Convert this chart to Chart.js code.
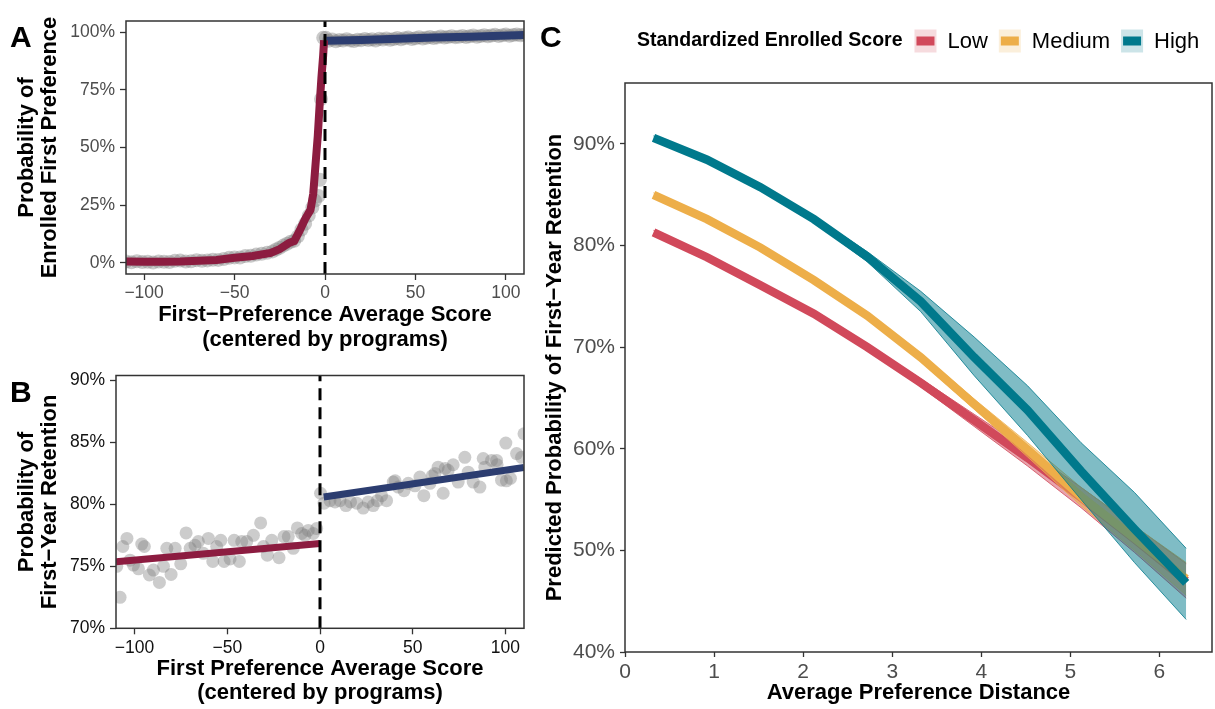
<!DOCTYPE html>
<html>
<head>
<meta charset="utf-8">
<script src="https://cdn.jsdelivr.net/npm/chart.js@4.4.0/dist/chart.umd.min.js"></script>
<style>
  body { margin: 0; background: #fff; width: 1215px; height: 709px; position: relative; overflow: hidden; }
  canvas { position: absolute; }
</style>
</head>
<body>
<canvas id="chartA" width="530" height="360" style="left:0px;top:0px"></canvas>
<canvas id="chartB" width="530" height="349" style="left:0px;top:360px"></canvas>
<canvas id="chartC" width="685" height="709" style="left:530px;top:0px"></canvas>
<script>
// ---- Panel A: probability of enrolling in first preference ----
const aXTicks = [-100, -50, 0, 50, 100];
const aXTickLabels = ['\u2212100', '\u221250', '0', '50', '100'];
const aYTicks = [0, 25, 50, 75, 100];
const aYTickLabels = ['0%', '25%', '50%', '75%', '100%'];
const aPtLeftX = [-110, -107, -104, -101, -98, -95, -92, -89, -86, -83, -80, -77, -74, -71, -68, -65, -62, -59, -56, -53, -50, -47, -44, -41, -38, -35, -32, -29, -27, -25, -23, -21, -19, -17, -15, -13, -11, -9, -7, -5.5, -3.6, -2.8, -2.2, -1];
const aPtLeftY = [0.6, 0.3, 0.7, 0.4, 0.5, 0.2, 0.6, 0.5, 0.4, 0.9, 1.0, 0.6, 0.7, 1.2, 0.9, 1.1, 1.4, 1.3, 1.7, 2.2, 2.4, 2.3, 3.0, 3.1, 3.6, 4.0, 4.4, 5.0, 5.8, 6.6, 7.5, 8.3, 9.2, 9.6, 11.5, 14.5, 17.0, 20.5, 24.0, 27.0, 29.0, 36.0, 71.0, 97.5];
const aPtRightX = [0.5, 2, 4, 6, 8, 10, 12, 14, 16, 18, 20, 22, 24, 26, 28, 30, 32, 34, 36, 38, 40, 42, 44, 46, 48, 50, 52, 54, 56, 58, 60, 62, 64, 66, 68, 70, 72, 74, 76, 78, 80, 82, 84, 86, 88, 90, 92, 94, 96, 98, 100, 102, 104, 106, 108, 110];
const aPtRightY = [97.5, 96.2, 96.8, 96.0, 96.6, 96.3, 96.9, 96.4, 96.1, 96.7, 96.5, 97.0, 96.6, 96.9, 96.3, 97.1, 96.8, 97.2, 96.7, 97.0, 97.4, 96.9, 97.3, 97.6, 97.0, 97.3, 97.8, 97.2, 97.5, 97.9, 97.4, 97.7, 98.1, 97.6, 97.9, 98.2, 97.8, 98.0, 98.3, 97.9, 98.2, 98.5, 98.0, 98.3, 98.6, 98.2, 98.5, 98.8, 98.3, 98.6, 98.9, 98.4, 98.7, 99.0, 98.6, 98.8];
const aFitLeftX = [-110, -100, -90, -80, -70, -60, -50, -40, -30, -25, -20, -17, -14, -11, -8, -6.5, -5, -4, -3, -2, -1, -0.5];
const aFitLeftY = [0.6, 0.5, 0.5, 0.6, 0.9, 1.3, 2.2, 3.0, 4.3, 6.0, 8.6, 9.5, 14, 19, 23, 30, 45, 55, 68, 80, 90, 96.5];
const aFitRightX = [0.8, 20, 40, 60, 80, 110];
const aFitRightY = [96.2, 96.6, 97.1, 97.6, 98.0, 98.7];

// ---- Panel B: probability of first-year retention ----
const bXTicks = [-100, -50, 0, 50, 100];
const bXTickLabels = ['\u2212100', '\u221250', '0', '50', '100'];
const bYTicks = [70, 75, 80, 85, 90];
const bYTickLabels = ['70%', '75%', '80%', '85%', '90%'];
const bPtLeftX = [-109.6, -107.8, -106.3, -104.1, -102.4, -100.6, -97.9, -96.1, -94.7, -92, -89.8, -86.6, -84.4, -82.6, -80.3, -78.1, -75.1, -72.2, -70, -67.4, -65.6, -62.9, -60.2, -57.8, -55.7, -53.5, -51.7, -48.5, -46.3, -43.5, -42.2, -39.5, -35.9, -32, -30.5, -28.4, -26, -22.1, -19.4, -17.1, -14.4, -12.2, -9.9, -8.1, -6.3, -3.6, -1.8];
const bPtLeftY = [75.0, 72.5, 76.6, 77.25, 75.5, 75.1, 74.8, 76.8, 76.6, 74.3, 74.7, 73.7, 75.0, 76.45, 74.35, 76.45, 75.2, 77.7, 76.45, 76.7, 77.0, 76.05, 77.25, 75.4, 76.6, 77.1, 75.4, 75.6, 77.1, 75.4, 77.0, 77.0, 77.5, 78.5, 76.6, 75.9, 77.1, 75.7, 77.4, 77.4, 76.45, 78.1, 77.65, 77.5, 77.9, 77.65, 78.05];
const bPtRightX = [0.3, 2.2, 5.4, 8.1, 10.8, 14, 16.5, 19.8, 23.3, 26, 28.7, 30.9, 33.2, 35.9, 39.5, 40.5, 42.2, 45.3, 47.6, 51.2, 53.9, 56, 59.3, 60.5, 62, 63.7, 66.4, 67.5, 69.1, 71.8, 74.5, 78.1, 79.9, 82.6, 86.2, 88, 88.9, 92.5, 95.2, 95.5, 97.9, 100.2, 100.5, 102.7, 106, 108.7, 110];
const bPtRightY = [80.9, 80.1, 80.3, 80.2, 80.3, 79.9, 80.2, 80.1, 79.7, 80.2, 79.9, 80.3, 80.7, 80.3, 81.8, 81.9, 81.4, 81.1, 81.7, 81.5, 82.2, 80.7, 81.7, 82.3, 82.5, 83.0, 80.9, 82.9, 82.75, 83.2, 81.8, 83.8, 82.6, 81.8, 81.4, 83.7, 83.0, 83.55, 83.55, 83.2, 81.95, 84.95, 81.9, 82.1, 84.1, 83.8, 85.7];
const bFitLeftX = [-110, 0];
const bFitLeftY = [75.37, 76.85];
const bFitRightX = [2, 110];
const bFitRightY = [80.6, 82.97];

// ---- Panel C: predicted retention by preference distance ----
const cGroups = ['Low', 'Medium', 'High'];
const cXTicks = [0, 1, 2, 3, 4, 5, 6];
const cXTickLabels = ['0', '1', '2', '3', '4', '5', '6'];
const cYTicks = [40, 50, 60, 70, 80, 90];
const cYTickLabels = ['40%', '50%', '60%', '70%', '80%', '90%'];
const cDistance = [0.32, 0.92, 1.52, 2.12, 2.72, 3.32, 3.92, 4.52, 5.12, 5.72, 6.3];
const cLowFit = [81.3, 78.85, 76.1, 73.3, 70.0, 66.5, 62.8, 59.1, 55.2, 51.1, 47.0];
const cLowUpper = [81.5, 79.05, 76.3, 73.5, 70.3, 66.9, 63.4, 59.9, 56.2, 52.4, 48.7];
const cLowLower = [81.1, 78.65, 75.9, 73.1, 69.7, 66.1, 62.2, 58.3, 54.2, 49.8, 45.3];
const cMedFit = [85.0, 82.6, 79.8, 76.6, 73.1, 69.0, 64.4, 59.9, 55.3, 51.2, 47.2];
const cMedUpper = [85.2, 82.8, 80.0, 76.85, 73.4, 69.4, 64.9, 60.6, 56.2, 52.4, 48.8];
const cMedLower = [84.8, 82.4, 79.6, 76.35, 72.8, 68.6, 63.9, 59.2, 54.4, 50.0, 45.6];
const cHighFit = [90.6, 88.45, 85.75, 82.6, 78.9, 74.5, 69.0, 63.8, 57.8, 52.1, 46.8];
const cHighUpper = [90.8, 88.65, 85.95, 82.9, 79.4, 75.5, 71.0, 66.2, 60.6, 55.7, 50.2];
const cHighLower = [90.4, 88.25, 85.55, 82.3, 78.4, 73.5, 67.2, 61.3, 55.0, 48.8, 43.2];

// estilos
const FONT = '"Liberation Sans", Arial, Helvetica, sans-serif';
const maroon = '#8c1c40';
const navy = '#2c3d70';
const cColors = ['#d1495b', '#edae49', '#00798c'];
const cRibbon = ['rgba(209,73,91,0.5)', 'rgba(237,174,73,0.5)', 'rgba(0,121,140,0.5)'];
const cKeyFill = ['rgba(209,73,91,0.2)', 'rgba(237,174,73,0.2)', 'rgba(0,121,140,0.2)'];

Chart.defaults.font.family = FONT;
Chart.defaults.animation = false;

const pts = (xs, ys) => xs.map((x, i) => ({ x: x, y: ys[i] }));

// eje lineal con ticks fijos y tamaño fijo
function axis(min, max, ticks, labels, o) {
  return {
    type: 'linear', min: min, max: max,
    afterBuildTicks: s => { s.ticks = ticks.map(v => ({ value: v })); },
    afterFit: s => { if (s.isHorizontal()) s.height = o.size; else s.width = o.size; },
    grid: { drawOnChartArea: false, drawTicks: true, tickLength: o.tickLen, tickColor: '#333', tickWidth: 1.3 },
    border: { display: false },
    ticks: { autoSkip: false, maxRotation: 0, padding: o.pad, color: o.tickColor, font: { size: o.tickSize }, callback: (v, i) => labels[i] },
    title: { display: true, text: o.title, color: '#000', font: { size: 22, weight: 'bold', lineHeight: o.lh }, padding: o.titlePad }
  };
}

// caja del panel y letra
const panelBox = {
  id: 'panelBox',
  afterDraw(chart, args, opts) {
    const { ctx, chartArea: a } = chart;
    ctx.save();
    ctx.strokeStyle = '#333';
    ctx.lineWidth = 1.5;
    ctx.strokeRect(a.left, a.top, a.right - a.left, a.bottom - a.top);
    ctx.fillStyle = '#000';
    ctx.font = 'bold 30px ' + FONT;
    ctx.textAlign = 'left';
    ctx.textBaseline = 'alphabetic';
    ctx.fillText(opts.letter, opts.lx, opts.ly);
    ctx.restore();
  }
};

// leyenda del panel C
const cLegend = {
  id: 'cLegend',
  afterDraw(chart) {
    const ctx = chart.ctx;
    const yc = 41;
    let x = 107;
    ctx.save();
    ctx.textAlign = 'left';
    ctx.textBaseline = 'middle';
    ctx.fillStyle = '#000';
    ctx.font = 'bold 19.5px ' + FONT;
    const title = 'Standardized Enrolled Score';
    ctx.fillText(title, x, yc);
    x += ctx.measureText(title).width + 12;
    ctx.font = '22px ' + FONT;
    cGroups.forEach((g, i) => {
      ctx.fillStyle = cKeyFill[i];
      ctx.fillRect(x, yc - 11.5, 22, 23);
      ctx.fillStyle = cColors[i];
      ctx.fillRect(x + 2, yc - 4.5, 18, 9);
      x += 22 + 11;
      ctx.fillStyle = '#000';
      ctx.fillText(g, x, yc + 1);
      x += ctx.measureText(g).width + 11;
    });
    ctx.restore();
  }
};

const noPlugins = { legend: { display: false }, tooltip: { enabled: false } };
const dash = [12, 7];

// ---- A ----
const aMin = -4.8, aMax = 104.8;
new Chart(document.getElementById('chartA'), {
  type: 'scatter',
  data: {
    datasets: [
      { data: [{ x: 0, y: aMin }, { x: 0, y: aMax }], showLine: true, borderColor: '#000', borderWidth: 3, borderDash: dash, pointRadius: 0, order: 1 },
      { data: pts(aFitLeftX, aFitLeftY), showLine: true, borderColor: maroon, borderWidth: 8, pointRadius: 0, order: 2 },
      { data: pts(aFitRightX, aFitRightY), showLine: true, borderColor: navy, borderWidth: 8, pointRadius: 0, order: 2 },
      { data: pts(aPtLeftX, aPtLeftY), pointRadius: 7, backgroundColor: 'rgba(128,128,128,0.42)', borderWidth: 0, order: 3 },
      { data: pts(aPtRightX, aPtRightY), pointRadius: 7, backgroundColor: 'rgba(128,128,128,0.42)', borderWidth: 0, order: 3 }
    ]
  },
  options: {
    responsive: false,
    layout: { padding: { left: 0, top: 21, right: 6, bottom: 0 }, autoPadding: false },
    plugins: Object.assign({ panelBox: { letter: 'A', lx: 10, ly: 47 } }, noPlugins),
    scales: {
      x: axis(-110, 110, aXTicks, aXTickLabels, { size: 86, tickLen: 6, pad: 3, tickColor: '#4d4d4d', tickSize: 17.5, title: ['First\u2212Preference Average Score', '(centered by programs)'], lh: '25px', titlePad: { top: 0, bottom: 8 } }),
      y: axis(aMin, aMax, aYTicks, aYTickLabels, { size: 126, tickLen: 6, pad: 5, tickColor: '#4d4d4d', tickSize: 17.5, title: ['Probability of', 'Enrolled First Preference'], lh: '23px', titlePad: { top: 15.5, bottom: 0 } })
    }
  },
  plugins: [panelBox]
});

// ---- B ----
const bMin = 70, bMax = 90.4;
new Chart(document.getElementById('chartB'), {
  type: 'scatter',
  data: {
    datasets: [
      { data: [{ x: 0, y: bMin }, { x: 0, y: bMax }], showLine: true, borderColor: '#000', borderWidth: 3, borderDash: dash, pointRadius: 0, order: 1 },
      { data: pts(bFitLeftX, bFitLeftY), showLine: true, borderColor: maroon, borderWidth: 7, pointRadius: 0, order: 2 },
      { data: pts(bFitRightX, bFitRightY), showLine: true, borderColor: navy, borderWidth: 7, pointRadius: 0, order: 2 },
      { data: pts(bPtLeftX, bPtLeftY), pointRadius: 6.5, backgroundColor: 'rgba(128,128,128,0.4)', borderWidth: 0, order: 3 },
      { data: pts(bPtRightX, bPtRightY), pointRadius: 6.5, backgroundColor: 'rgba(128,128,128,0.4)', borderWidth: 0, order: 3 }
    ]
  },
  options: {
    responsive: false,
    layout: { padding: { left: 0, top: 15, right: 6, bottom: 0 }, autoPadding: false },
    plugins: Object.assign({ panelBox: { letter: 'B', lx: 10, ly: 42 } }, noPlugins),
    scales: {
      x: axis(-110, 110, bXTicks, bXTickLabels, { size: 80.7, tickLen: 6, pad: 3, tickColor: '#111', tickSize: 17.5, title: ['First Preference Average Score', '(centered by programs)'], lh: '24px', titlePad: { top: 0, bottom: 3.7 } }),
      y: axis(bMin, bMax, bYTicks, bYTickLabels, { size: 116, tickLen: 6, pad: 5, tickColor: '#111', tickSize: 17.5, title: ['Probability of', 'First\u2212Year Retention'], lh: '23px', titlePad: { top: 15.5, bottom: 0 } })
    }
  },
  plugins: [panelBox]
});

// ---- C ----
function ribbonSets(i, fit, upper, lower, baseOrder) {
  return [
    { data: pts(cDistance, lower), showLine: true, borderColor: cColors[i], borderWidth: 0.8, pointRadius: 0, order: baseOrder + 2 },
    { data: pts(cDistance, upper), showLine: true, borderColor: cColors[i], borderWidth: 0.8, pointRadius: 0, fill: '-1', backgroundColor: cRibbon[i], order: baseOrder + 1 },
    { data: pts(cDistance, fit), showLine: true, borderColor: cColors[i], borderWidth: 8.5, pointRadius: 0, order: baseOrder }
  ];
}

new Chart(document.getElementById('chartC'), {
  type: 'scatter',
  data: {
    datasets: [].concat(
      ribbonSets(0, cLowFit, cLowUpper, cLowLower, 7),
      ribbonSets(1, cMedFit, cMedUpper, cMedLower, 4),
      ribbonSets(2, cHighFit, cHighUpper, cHighLower, 1)
    )
  },
  options: {
    responsive: false,
    layout: { padding: { left: 0, top: 83, right: 3, bottom: 0 }, autoPadding: false },
    plugins: Object.assign({ panelBox: { letter: 'C', lx: 10, ly: 47 }, filler: { propagate: false } }, noPlugins),
    scales: {
      x: axis(0, 6.59, cXTicks, cXTickLabels, { size: 57, tickLen: 5, pad: 3, tickColor: '#4d4d4d', tickSize: 21, title: 'Average Preference Distance', lh: '24px', titlePad: { top: 0, bottom: 4 } }),
      y: axis(40, 96, cYTicks, cYTickLabels, { size: 95, tickLen: 5, pad: 5, tickColor: '#4d4d4d', tickSize: 21, title: 'Predicted Probability of First\u2212Year Retention', lh: '24px', titlePad: { top: 13, bottom: 0 } })
    }
  },
  plugins: [panelBox, cLegend]
});
</script>
</body>
</html>
